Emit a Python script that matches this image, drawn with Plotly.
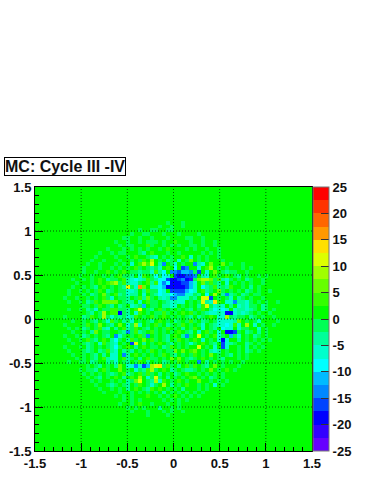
import plotly.graph_objects as go

N_BINS = 70
AXIS_MIN = -1.5
AXIS_MAX = 1.5
TITLE = "MC: Cycle III -IV"
TICKS = [-1.5, -1, -0.5, 0, 0.5, 1, 1.5]
TICK_LABELS = ["-1.5", "-1", "-0.5", "0", "0.5", "1", "1.5"]
Z_TICKS = [-25, -20, -15, -10, -5, 0, 5, 10, 15, 20, 25]
BAND_COLORS = ["#6600ff", "#3300ff", "#0000ff", "#0044ff", "#0088ff", "#00bbff", "#00ffff", "#00ffcc", "#00ff99", "#00ff55",
               "#00ff00", "#33ff00", "#66ff00", "#a0ff00", "#ddff00", "#ffe000", "#ff9900", "#ff6600", "#ff3300", "#ff0000"]

# value read per colour band for each symbol in the rows below
LEVELS = {".": 1, "a": -1, "b": -4, "c": -6, "d": -9, "e": -11, "f": -14, "g": -16, "h": -19, "i": -21,
          "1": 4, "2": 6, "3": 9, "4": 11, "5": 14, "6": 16, "7": 19}

FIRST_ROW = 9   # rows above this one are all background
# Rows from the top of the plot; each read left to right (groups of ten bins).
ROWS = [
 ".......... .......... .......... ...a...a..",                             # 9
 ".......... .......... .......... .a..a..a..",                             # 10
 ".......... .......... ......a..a a..aa.....",                             # 11
 ".......... .......... ....a..aa. ..a...a... .a",                          # 12
 ".......... .......... ..aa..a..a ...a....aa ..a",                         # 13
 ".......... .......... a..a..a.aa a.a..1...a ..a..a",                      # 14
 ".......... .......... .a.aa...1a ..a.a.a..a a.a..a",                      # 15
 ".......... ........a. ..a.a.a.a. .a.1....a. a..a..a",                     # 16
 ".......... ......a..a .aa...ab.1 ...a..a... ..a.a.a",                     # 17
 ".......... .....a.... a..a.1..ab c.a.a..1.c .a.a..a",                     # 18
 ".......... ....a..a.. .a..a.a1.3 .a.ba.c.a2 .a.a...a.",                   # 19
 ".......... ...a..a... a.a.c.1314 .bf.ac.a.. fbc.2..2.a ..a",              # 20
 ".......... ..a...a..a .a.a.1a.ab ac.1.d.gf. .c.13.a.a. ..a.a",            # 21
 ".......... ..a..a..1. a.1.aabaac 1bd.ffgeef ag.c.2.aba a..a.",            # 22
 ".......... .a..a..a.a .1aab.c1.ad adc.ghhggf .bc.1a.1.a b.a..a.a",        # 23
 ".........a ..a.a.1.ba a.1bcdcb1a bddghhgfhi a2332a1bca .a.ba..a",         # 24
 ".......... a...a.1.12 3a1bcca.1b 1dfdhhhgge c.2a1ab.c. a.a.a..a.",        # 25
 ".........a ..a.ab.1.a .ab4ac62.c cdehhhhhge c.dba1bab1 ..a.b.a..",        # 26
 "........a. .a.a.a1.ba .aaccb.b1a adc.gggged c.1ba.2a.a .a.ba.a..a",       # 27
 "........a. ..a.ba.2a. 1bacbb.c.a bdccdeffcc ab.d.3.bfb a.ba.aa.",         # 28
 ".......a.. a..a.a.1ac .aab.a1b2a .bcbffccca b.44g.a.ac .ba.a..a",         # 29
 "........a. .a.ba1.222 2.abb.c.1a a.abcbcc.a .a4bc51.cc fbbca.a.a. .a",    # 30
 ".......... ..aa.a1.ab .ba.cbae.a a.bbcc.a.a .b14acbc.b .cbcaa.ba. .",     # 31
 "........a. .a.bac.aa1 1aab.14.ab .1a.a.a.ab .a1.bdcdc. cbbcba.ba. a",     # 32
 ".......... ...ab.a3.1 1hab.c1.a. aa1a.a.1.1 a.abccbchh cbcba.a..a",       # 33
 ".......a.. ..ba1.a3ac abacb1.a.1 a.1.a.a.ab .ba.1.cc3a baa.ba.a.. a",     # 34
 ".........a ..a.ab.ac1 a.bac.a.ab .1.a.ba.a1 a.ba.acccc b2.a.ac... .a",    # 35
 ".......a.. ..a1.a2.ab .2.ca3c.a. 1a.ba.a1.a .ac.abccdc 1c.3.c.a.. a",     # 36
 "........a. a.ba.a1bc. b.1ba1.ab. a.a1.a.b.a 1.c.ab.dcc .caa..c.a.",       # 37
 ".........a ..a.b2.aa. .abfa1ba.1 a.a.a.1.ab .c.1a.c.hh ga.ba.b.a.",       # 38
 ".......a.. a.ba.a.ab. fca.a.1af. a.ab.1.bfa .4.a.1ca.e ac.a.ba.a.",       # 39
 "........a. .a.1ab.1.b da.b1a.2.1 a.ab.a1.a. 1.c.a.chc. .b.a.a.a. a",      # 40
 ".........a ..aba.c1ab c.a.g4.b.a .1.ab.a.ac a.1.ab.gcb a..ba.a..",        # 41
 ".......a.. .a.ba.a.ab da.1.b.1.a a.ba1.a.a. .4.a.c.gc. .a.b.a.a.",        # 42
 "........a. ..aba.ba1b c.bab.a.a1 .a.aa2.2.1 2.a.bcb.a. .a.ba.a",          # 43
 ".........a ..a.ab.b.c c.fb.1.a.a .a1.ab.a.a 1.a.2.a.ab .a.a..",           # 44
 ".......... a.a.ab.1bc c.1ba.b.1a a.a.2.2.ab a.1.a.ab.. .a.a",             # 45
 "........a. .aa.ba..ba c.ab.a1.b. a.ba.a1.a. .f.b.a.a.a ..a",              # 46
 ".......... ...a.ab.a. b2.ccfcge3 45a1a.b.1a 1.ab.2.a.. .a.",              # 47
 ".......... .a.aab.1a. .2.a.cab13 a.1.ba.abb a.a.2.a.1. a",                # 48
 ".......... ..a.a.a.ab a.1ba.1a1a .b.a.ba.1. .a.a.a.a",                    # 49
 ".......... ...a.ab.a. 1.b.1.3.ca 4a.b.a.a.1 2.a.ba.a. .",                 # 50
 ".......... ....a.a..a .a.ba24.ab 3c1.a.1.a. .2..a.a.a.",                  # 51
 ".......... .....a..ab a.ab.a1.ac a.3.b.a.1. .a.a.c.a",                    # 52
 ".......... ......a..a .a.b.1.ab1 .1.a.a.b.. .a.a.",                       # 53
 ".......... .......a.. .a..a.a.a. a.b.a.a.a. a.a",                         # 54
 ".......... .......... a.a.a...1. .a.a.1.a.a .a",                          # 55
 ".......... .......... ..a.a.a... ..a.a.a.a. .",                           # 56
 ".......... .......... .a..a.1..a ...a..a...",                             # 57
 ".......... .......... ...a.a.a.. .b..a.a...",                             # 58
 ".......... .......... ....a...a. ..a.a..a",                               # 59
 ".......... .......... ........a. ...a..",                                 # 60
]

dx = (AXIS_MAX - AXIS_MIN) / N_BINS
centers = [AXIS_MIN + (i + 0.5) * dx for i in range(N_BINS)]

z = [[LEVELS["."]] * N_BINS for _ in range(N_BINS)]
for r, row in enumerate(ROWS):
    cells = row.replace(" ", "").ljust(N_BINS, ".")[:N_BINS]
    z[FIRST_ROW + r] = [LEVELS[c] for c in cells]
z = z[::-1]

colorscale = []
for i, col in enumerate(BAND_COLORS):
    colorscale.append([i / len(BAND_COLORS), col])
    colorscale.append([(i + 1) / len(BAND_COLORS), col])

FONT = dict(family="Liberation Sans", size=13, color="#111111", weight="bold")

fig = go.Figure(go.Heatmap(
    x=centers, y=centers, z=z, zmin=-25, zmax=25, colorscale=colorscale, zsmooth=False,
    hoverinfo="skip",
    colorbar=dict(x=1.005, xanchor="left", y=0, yanchor="bottom", len=1, lenmode="fraction",
                  thickness=16, thicknessmode="pixels", xpad=0, ypad=0,
                  tickmode="array", tickvals=Z_TICKS, ticktext=[str(t) for t in Z_TICKS],
                  ticks="inside", ticklen=8, tickwidth=1, tickcolor="#333333",
                  outlinecolor="#777777", outlinewidth=1, tickfont=FONT),
))

axis = dict(range=[AXIS_MIN, AXIS_MAX], tickmode="array", tickvals=TICKS, ticktext=TICK_LABELS,
            ticks="inside", ticklen=8, tickwidth=1, tickcolor="black", tickfont=FONT, automargin=False,
            showgrid=False, zeroline=False, showline=True, linecolor="black", linewidth=1, mirror=True,
            layer="above traces",
            minor=dict(tickmode="linear", tick0=-1.5, dtick=0.1, ticks="inside", ticklen=4, tickwidth=1,
                       tickcolor="black", showgrid=False))

shapes = []
for t in TICKS[1:-1]:
    shapes.append(dict(type="line", xref="x", yref="paper", x0=t, x1=t, y0=0, y1=1, layer="above",
                       line=dict(color="rgba(0,60,0,0.85)", width=1, dash="1px,2px")))
    shapes.append(dict(type="line", xref="paper", yref="y", x0=0, x1=1, y0=t, y1=t, layer="above",
                       line=dict(color="rgba(0,60,0,0.85)", width=1, dash="1px,2px")))

fig.update_layout(
    width=374, height=484, margin=dict(l=35, r=62, t=187, b=33),
    paper_bgcolor="white", plot_bgcolor="#00ff00", shapes=shapes,
    xaxis=axis, yaxis=axis,
    annotations=[dict(text=TITLE, xref="paper", yref="paper",
                      x=(4 - 35) / 277, y=1 + (187 - 176) / 264, xanchor="left", yanchor="bottom",
                      showarrow=False, bordercolor="black", borderwidth=1, borderpad=0,
                      bgcolor="white", font=dict(family="Liberation Sans", size=16, color="#111111", weight="bold"))],
)

fig.write_html("out.html", config={"displayModeBar": False},
               post_script="document.body.style.margin='0';document.documentElement.style.overflow='hidden';")
